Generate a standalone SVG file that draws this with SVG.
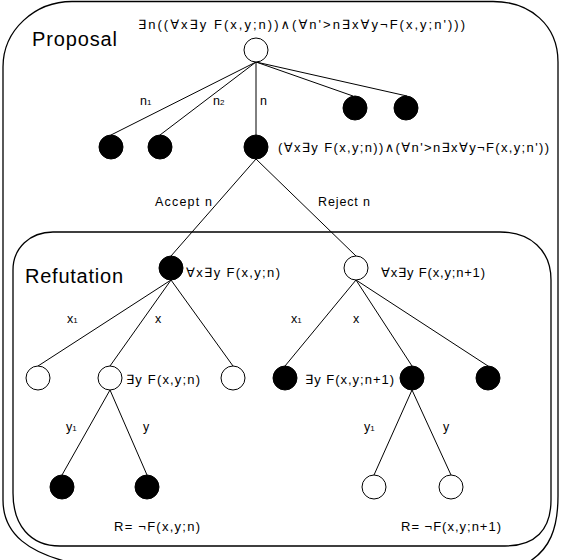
<svg xmlns="http://www.w3.org/2000/svg" width="562" height="560" viewBox="0 0 562 560">
<style>
.box{fill:none;stroke:#000;stroke-width:1.3}
.edge{stroke:#000;stroke-width:1;fill:none}
.blk{fill:#000;stroke:#000;stroke-width:1}
.wht{fill:#fff;stroke:#000;stroke-width:1}
text{font-family:"Liberation Sans","DejaVu Sans",Arial,sans-serif;fill:#000}
.lbl{font-size:13px}
.el{font-size:12.5px}
.sub{font-size:8px}
.title{font-size:20px}
</style>
<rect width="562" height="560" fill="#fff"/>
<g id="frames">
<path id="proposal-box" class="box" d="M 72,1.5 H 493 C 530,1.5 558,25 558,62 V 496 C 558,528 550,550 527,563 H 72 C 30,553 3,535 3,500 V 67 C 3,30 35,1.5 72,1.5 Z"/>
<path id="refutation-box" class="box" d="M 53,232 H 500 C 530,232 551,250 551,280 V 500 C 551,530 535,546 505,546 H 60 C 30,546 13,525 13,493 V 270 C 13,248 30,232 53,232 Z"/>
<text class="title" x="32" y="46" textLength="85">Proposal</text>
<text class="title" x="25" y="283" textLength="98">Refutation</text>
</g>
<g id="connectors">
<line class="edge" x1="256" y1="62" x2="111" y2="135"/>
<line class="edge" x1="256" y1="62" x2="160" y2="135"/>
<line class="edge" x1="256" y1="62" x2="256" y2="135"/>
<line class="edge" x1="256" y1="62" x2="353" y2="96"/>
<line class="edge" x1="256" y1="62" x2="407" y2="96"/>
<line class="edge" x1="256" y1="159" x2="171" y2="256"/>
<line class="edge" x1="256" y1="159" x2="356" y2="256"/>
<line class="edge" x1="171" y1="280" x2="38" y2="366"/>
<line class="edge" x1="171" y1="280" x2="110" y2="366"/>
<line class="edge" x1="171" y1="280" x2="233" y2="366"/>
<line class="edge" x1="356" y1="280" x2="285" y2="366"/>
<line class="edge" x1="356" y1="280" x2="412" y2="366"/>
<line class="edge" x1="356" y1="280" x2="488" y2="366"/>
<line class="edge" x1="110" y1="390" x2="62" y2="475"/>
<line class="edge" x1="110" y1="390" x2="147" y2="475"/>
<line class="edge" x1="412" y1="390" x2="374" y2="475"/>
<line class="edge" x1="412" y1="390" x2="451" y2="475"/>
<text class="el" x="140" y="105">n<tspan class="sub">1</tspan></text>
<text class="el" x="213" y="105">n<tspan class="sub">2</tspan></text>
<text class="el" x="260" y="105">n</text>
<text class="el" x="155" y="206" textLength="57">Accept n</text>
<text class="el" x="318" y="206" textLength="52">Reject n</text>
<text class="el" x="67" y="323">x<tspan class="sub">1</tspan></text>
<text class="el" x="155" y="323">x</text>
<text class="el" x="291" y="323">x<tspan class="sub">1</tspan></text>
<text class="el" x="353" y="323">x</text>
<text class="el" x="66" y="431">y<tspan class="sub">1</tspan></text>
<text class="el" x="143" y="431">y</text>
<text class="el" x="364" y="431">y<tspan class="sub">1</tspan></text>
<text class="el" x="443" y="431">y</text>
</g>
<g id="root">
<circle class="wht" cx="256" cy="50" r="12"/>
<text class="lbl" x="138" y="29" textLength="327">∃n((∀x∃y F(x,y;n))∧(∀n'&gt;n∃x∀y¬F(x,y;n')))</text>
</g>
<g id="p1"><circle class="blk" cx="111" cy="147" r="12"/></g>
<g id="p2"><circle class="blk" cx="160" cy="147" r="12"/></g>
<g id="pn">
<circle class="blk" cx="256" cy="147" r="12"/>
<text class="lbl" x="278" y="152" textLength="271">(∀x∃y F(x,y;n))∧(∀n'&gt;n∃x∀y¬F(x,y;n'))</text>
</g>
<g id="p4"><circle class="blk" cx="355" cy="108" r="12"/></g>
<g id="p5"><circle class="blk" cx="406" cy="108" r="12"/></g>
<g id="accept">
<circle class="blk" cx="171" cy="268" r="12"/>
<text class="lbl" x="186" y="277" textLength="94">∀x∃y F(x,y;n)</text>
</g>
<g id="reject">
<circle class="wht" cx="356" cy="268" r="12"/>
<text class="lbl" x="381" y="277" textLength="104">∀x∃y F(x,y;n+1)</text>
</g>
<g id="a1"><circle class="wht" cx="38" cy="378" r="12"/></g>
<g id="ax">
<circle class="wht" cx="110" cy="378" r="12"/>
<text class="lbl" x="126" y="384" textLength="74">∃y F(x,y;n)</text>
</g>
<g id="a3"><circle class="wht" cx="233" cy="378" r="12"/></g>
<g id="r1">
<circle class="blk" cx="285" cy="378" r="12"/>
<text class="lbl" x="305" y="384" textLength="89">∃y F(x,y;n+1)</text>
</g>
<g id="rx"><circle class="blk" cx="412" cy="378" r="12"/></g>
<g id="r3"><circle class="blk" cx="488" cy="378" r="12"/></g>
<g id="ay1"><circle class="blk" cx="62" cy="487" r="12"/></g>
<g id="ay">
<circle class="blk" cx="147" cy="487" r="12"/>
<text class="lbl" x="114" y="531" textLength="86">R= ¬F(x,y;n)</text>
</g>
<g id="ry1"><circle class="wht" cx="374" cy="487" r="12"/></g>
<g id="ry">
<circle class="wht" cx="451" cy="487" r="12"/>
<text class="lbl" x="401" y="531" textLength="100">R= ¬F(x,y;n+1)</text>
</g>
</svg>
